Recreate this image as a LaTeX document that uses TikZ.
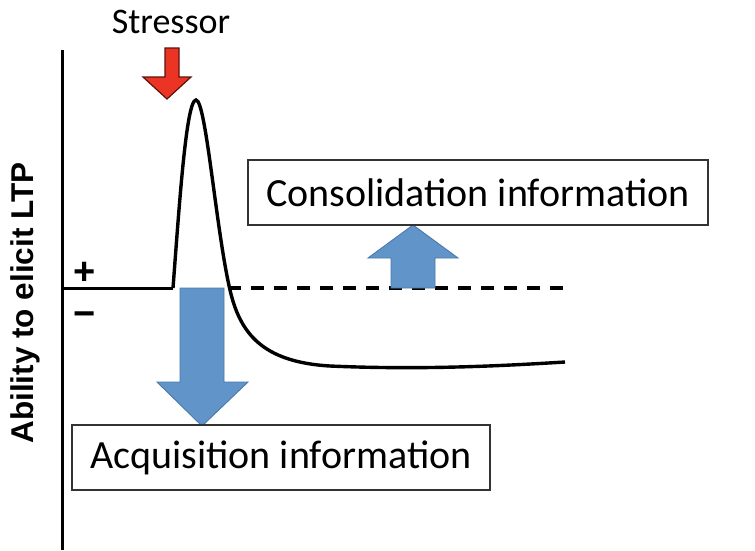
\documentclass[tikz,border=0pt]{standalone}
\usepackage{fontspec}
\setmainfont{Carlito}
\newfontfamily\arialfont{Liberation Sans}
\definecolor{bluefill}{RGB}{97,149,201}
\definecolor{blueedge}{RGB}{74,120,170}
\definecolor{redfill}{RGB}{236,52,36}
\definecolor{rededge}{RGB}{90,20,10}
\tikzset{
  infobox/.style={draw=black!80, line width=1.1pt, fill=white, rectangle, inner sep=0pt, font=\fontsize{40}{44}\selectfont},
  bluearrow/.style={fill=bluefill, draw=blueedge, line width=0.9pt},
  redarrow/.style={fill=redfill, draw=rededge, line width=1.2pt},
  axisline/.style={line width=3pt, black},
  curveline/.style={line width=3.4pt, black},
  dashline/.style={line width=3.2pt, black, dash pattern=on 13pt off 10pt},
  signlabel/.style={font=\arialfont\bfseries\fontsize{38}{38}\selectfont}
}
\begin{document}
\begin{tikzpicture}[x=1pt,y=-1pt]
\useasboundingbox (0,0) rectangle (755,550);
% axis
\coordinate (axtop) at (62,50);
\coordinate (axbot) at (62,550);
\coordinate (base0) at (61,288);
\coordinate (base1) at (173,288);
\coordinate (dash0) at (228,288);
\coordinate (dash1) at (565,288);
\draw[axisline] (axtop) -- (axbot);
\draw[axisline] (base0) -- (base1);
\draw[dashline] (dash0) -- (dash1);
% curve
\draw[curveline] (base1) .. controls (179,210) and (186,100) .. (196,100)
  .. controls (206,100) and (216,230) .. (230,290)
  .. controls (240,333) and (262,362) .. (330,366)
  .. controls (420,370) and (500,366) .. (565,362);
% blue down arrow
\draw[bluearrow] (180,288) -- (224,288) -- (224,382) -- (248,382) -- (202,426) -- (157,382) -- (180,382) -- cycle;
% blue up arrow
\draw[bluearrow] (391,288) -- (435,288) -- (435,258) -- (458,258) -- (413,225) -- (368,258) -- (391,258) -- cycle;
% red arrow
\draw[redarrow] (165,48) -- (179,48) -- (179,77) -- (191,77) -- (167,99) -- (143,77) -- (165,77) -- cycle;
% boxes
\node[infobox, minimum width=460pt, minimum height=65pt] (cons) at (478,192.5) {Consolidation information};
\node[infobox, minimum width=418pt, minimum height=65pt] (acq) at (281,457.5) {Acquisition information};
% labels
\node[anchor=base, inner sep=0pt, font=\fontsize{36}{40}\selectfont] (stress) at (171,33) {Stressor};
\node[signlabel, inner sep=0pt] (plus) at (85,273) {+};
\node[signlabel, inner sep=0pt] (minus) at (85,319) {−};
\node[anchor=base, rotate=90, inner sep=0pt, font=\arialfont\bfseries\fontsize{31.5}{34}\selectfont] (ylab) at (34,303) {Ability to elicit LTP};
\end{tikzpicture}
\end{document}
